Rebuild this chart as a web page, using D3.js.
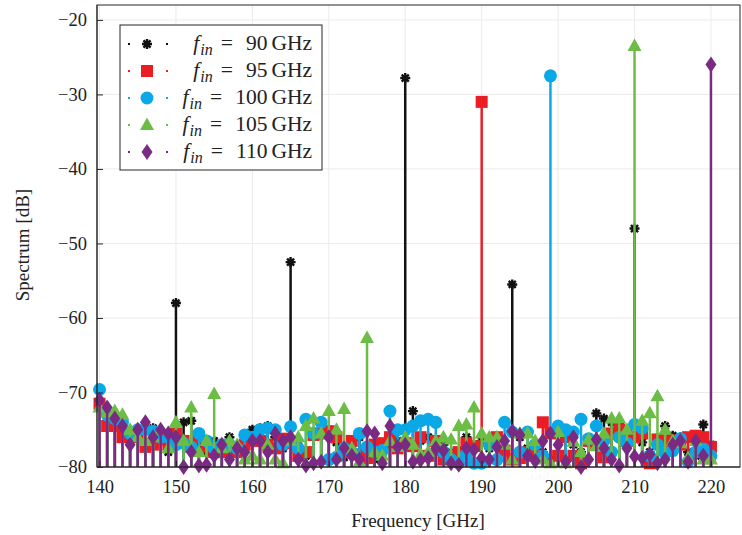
<!DOCTYPE html>
<html><head><meta charset="utf-8">
<script src="https://cdn.jsdelivr.net/npm/d3@7"></script>
<style>body{margin:0;background:#fff}</style>
</head><body>
<svg id="c" width="742" height="535"></svg>
<script>
const freqs = d3.range(140, 221, 1);
const xTicks = [140,150,160,170,180,190,200,210,220];
const yTicks = [-80,-70,-60,-50,-40,-30,-20];
const seriesNames = ["90","95","100","105","110"];
const s90 = [-71.5,-74,-73,-75,-76,-75,-77,-74.8,-76,-78,-58,-74,-73.8,-77,-78,-76.5,-77,-76,-78,-76.5,
 -75,-74.8,-74.5,-76,-77.5,-52.5,-76.5,-78.5,-75.3,-74,-75,-76.7,-78.7,-77,-76,-78,-79,-78,-77,-76.5,
 -27.8,-72.5,-76.5,-76,-78,-77,-78,-78.5,-76,-77,-76.5,-77.5,-76,-78,-55.5,-76,-77.5,-79,-78,-79,
 -78.5,-76,-77,-78,-76.5,-72.8,-73.5,-74,-74.2,-75,-48,-76.7,-78,-76.5,-74.5,-75.8,-76,-78,-78.5,-74.3,-77];
const s95 = [-71.5,-74.5,-74.5,-76,-76,-75.5,-77.3,-77,-76.3,-77,-75.5,-76.5,-77.3,-76,-77.3,-78,-78,-77.6,-78,-77,
 -76,-76.5,-77,-77.5,-76.2,-76.8,-78.5,-78,-75.7,-75.5,-75.2,-76,-78,-76.5,-78.3,-78.8,-77,-76.8,-76,-77.5,
 -76.8,-77.2,-76,-78.5,-76.5,-79,-78.5,-78,-76.8,-77.2,-31,-76.5,-76,-77.8,-79,-78.8,-78,-78.5,-74,-75.5,
 -78.5,-76,-78.5,-79.5,-76.5,-77,-78.7,-75.5,-75,-76.5,-76,-75.5,-79.5,-76.3,-76.5,-76.4,-77,-76,-75.8,-76,-77.3];
const s100 = [-69.6,-73,-73.5,-74,-75.5,-75,-75,-75.2,-76,-76,-77,-76.8,-77.3,-75.5,-76.5,-77.5,-77,-77,-77.5,-75.7,
 -76,-75,-74.8,-75,-77,-74.6,-77.5,-73.6,-75.5,-74,-79,-78.7,-77.5,-78,-75.5,-77.3,-78,-77.8,-72.5,-75,
 -75,-74.5,-73.8,-73.6,-74,-78,-79,-79.5,-78.3,-79.5,-79.5,-77,-79,-74,-75.3,-78,-75.3,-77,-78.5,-27.5,
 -74.5,-75,-75.3,-73.6,-76.2,-74.5,-76.5,-78,-76,-76.8,-74.3,-74.8,-78.5,-77,-78.2,-77.8,-76.2,-79.3,-78,-77.6,-78.5];
const s105 = [-72,-72.7,-72.5,-73,-75,-76,-76.5,-76,-75,-77.5,-74,-76.5,-72,-78,-76.5,-70.2,-77.5,-76.5,-77,-79,
 -78.5,-79,-77,-79,-79.5,-76.5,-76,-74.5,-73.5,-75.5,-72.5,-75,-72.2,-77.5,-79.3,-62.7,-78,-78.5,-76.5,-77.3,
 -76,-77,-78.3,-78,-76.5,-76,-76.3,-74.5,-74.3,-72,-75.5,-76,-76,-77,-79,-75.5,-75.5,-76.5,-79,-79.5,
 -75.3,-79.5,-76.6,-78,-76.3,-77.2,-75.5,-73.5,-73.5,-75,-23.5,-73.8,-72.8,-70.5,-75,-76.5,-76.8,-78.8,-76.5,-79,-79];
const s110 = [-71,-72,-73.5,-74.5,-77,-75,-74,-76,-75,-75.5,-76,-80,-78,-79.8,-79.7,-78.5,-77,-79,-77.5,-78,
 -76.5,-76.5,-78,-75.5,-76.5,-76,-79,-79.8,-79.5,-79.3,-76,-79,-77.5,-78.5,-79,-75.2,-75.5,-79.5,-74.5,-77.3,
 -77,-79.3,-79.1,-78.8,-77.5,-77.8,-79.5,-79.7,-77.5,-77.7,-78.8,-79,-77.3,-76.5,-75.2,-75.7,-78.5,-79.2,-76.5,-75.5,
 -77,-79.3,-76,-80,-79,-76.3,-77.5,-79,-79.8,-77.5,-78.6,-78.8,-78.3,-79.5,-79,-77,-76.5,-79.3,-76.5,-78.5,-26];
const seriesValues = [s90, s95, s100, s105, s110];
const colors = ["#111111","#ec1c24","#0aa8e6","#6cbd45","#7b2a83"];
const symbols = ["asterisk","square","circle","triangle","diamond"];

const svg = d3.select("#c");
const m = {l:97, r:740, t:5, b:467};
const x = d3.scaleLinear().domain([139.67,223.8]).range([m.l, m.r]);
const y = d3.scaleLinear().domain([-80,-18]).range([m.b, m.t]);
const font = "'Liberation Serif','DejaVu Serif',serif";

// grid
const g = svg.append("g");
g.selectAll("line.gx").data(xTicks).join("line")
  .attr("x1",d=>x(d)).attr("x2",d=>x(d)).attr("y1",m.t).attr("y2",m.b)
  .attr("stroke","#ebebeb").attr("stroke-width",1);
g.selectAll("line.gy").data(yTicks).join("line")
  .attr("y1",d=>y(d)).attr("y2",d=>y(d)).attr("x1",m.l).attr("x2",m.r)
  .attr("stroke","#ebebeb").attr("stroke-width",1);

function marker(sel, type, color){
  if(type==="asterisk"){
    const p = d3.path(); const r=5;
    for(let k=0;k<4;k++){const a=k*Math.PI/4; p.moveTo(-r*Math.cos(a),-r*Math.sin(a)); p.lineTo(r*Math.cos(a),r*Math.sin(a));}
    sel.append("path").attr("d",p.toString()).attr("stroke",color).attr("stroke-width",2.4).attr("fill","none");
  } else if(type==="square"){
    sel.append("rect").attr("x",-6).attr("y",-6).attr("width",12).attr("height",12).attr("fill",color);
  } else if(type==="circle"){
    sel.append("circle").attr("r",6.5).attr("fill",color);
  } else if(type==="triangle"){
    sel.append("path").attr("d","M0,-7.5L7,5L-7,5Z").attr("fill",color);
  } else {
    sel.append("path").attr("d","M0,-8L5.5,0L0,8L-5.5,0Z").attr("fill",color);
  }
}

const plot = svg.append("g");
seriesValues.forEach((vals,i)=>{
  const sg = plot.append("g");
  const pts = freqs.map((f,j)=>({f, v:vals[j]}));
  sg.selectAll("line").data(pts).join("line")
    .attr("x1",d=>x(d.f)).attr("x2",d=>x(d.f))
    .attr("y1",y(-80)).attr("y2",d=>y(d.v))
    .attr("stroke",colors[i]).attr("stroke-width",2.5);
  sg.selectAll("g.mk").data(pts).join("g")
    .attr("transform",d=>`translate(${x(d.f)},${y(d.v)})`)
    .each(function(){ marker(d3.select(this), symbols[i], colors[i]); });
});

// axes frame
const ax = svg.append("g");
ax.append("rect").attr("x",m.l).attr("y",m.t).attr("width",m.r-m.l).attr("height",m.b-m.t)
  .attr("fill","none").attr("stroke","#262626").attr("stroke-width",1);
const xa = svg.append("g").attr("transform",`translate(0,${m.b})`)
  .call(d3.axisBottom(x).tickValues(xTicks).tickSizeInner(-6).tickSizeOuter(0).tickPadding(12).tickFormat(d3.format("d")));
const ya = svg.append("g").attr("transform",`translate(${m.l},0)`)
  .call(d3.axisLeft(y).tickValues(yTicks).tickSizeInner(-6).tickSizeOuter(0).tickPadding(10).tickFormat(d=>"\u2212"+Math.abs(d)));
xa.select(".domain").attr("d",`M${m.l},0H${m.r}`);
ya.select(".domain").attr("d",`M0,${m.b}V${m.t}`);
[xa,ya].forEach(a=>{
  a.select(".domain").attr("stroke","#262626");
  a.selectAll(".tick line").attr("stroke","#262626");
  a.selectAll("text").attr("font-family",font).attr("font-size",18.5).attr("fill","#222");
});
xa.selectAll("text").attr("dy","0.75em");

svg.append("text").attr("x",418).attr("y",527).attr("text-anchor","middle")
  .attr("font-family",font).attr("font-size",19).attr("fill","#222").text("Frequency [GHz]");
svg.append("text").attr("transform","translate(29,245) rotate(-90)").attr("text-anchor","middle")
  .attr("font-family",font).attr("font-size",19).attr("fill","#222").text("Spectrum [dB]");

// legend
const lg = svg.append("g");
lg.append("rect").attr("x",120).attr("y",25).attr("width",202).attr("height",145)
  .attr("fill","#fff").attr("stroke","#262626").attr("stroke-width",1);
seriesNames.forEach((n,i)=>{
  const yy = 44 + i*27;
  const r = lg.append("g");
  r.append("rect").attr("x",128).attr("y",yy-1).attr("width",2).attr("height",2).attr("fill",colors[i]);
  r.append("rect").attr("x",166).attr("y",yy-1).attr("width",2).attr("height",2).attr("fill",colors[i]);
  const mg = r.append("g").attr("transform",`translate(147,${yy})`);
  marker(mg, symbols[i], colors[i]);
  const t = r.append("text").attr("x",312).attr("y",yy+6).attr("text-anchor","end")
    .attr("font-family",font).attr("font-size",21.5).attr("fill","#222");
  t.append("tspan").attr("font-style","italic").text("f");
  t.append("tspan").attr("font-style","italic").attr("font-size",16).attr("dy",5).attr("dx",1).text("in");
  t.append("tspan").attr("dy",-5).attr("dx",8).text("=");
  t.append("tspan").attr("dx",13).text(n);
  t.append("tspan").attr("dx",4).text("GHz");
});
</script>
</body></html>
